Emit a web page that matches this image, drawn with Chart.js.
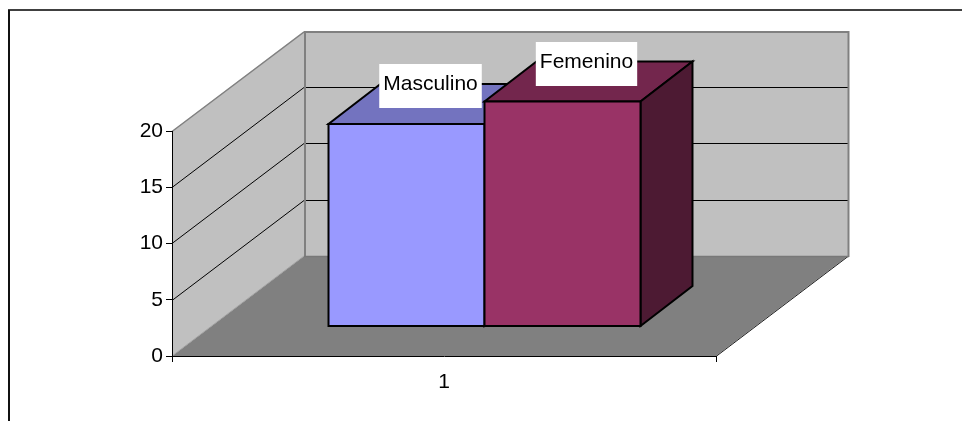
<!DOCTYPE html>
<html>
<head>
<meta charset="utf-8">
<script src="https://cdn.jsdelivr.net/npm/chart.js@4"></script>
<style>
html, body { margin: 0; padding: 0; background: #fff; }
#wrap { width: 962px; height: 421px; }
</style>
</head>
<body>
<div id="wrap"><canvas id="chart" width="962" height="421"></canvas></div>
<script>
const categories = ["1"];
const masculino = [18];
const femenino = [20];
const yTicks = [0, 5, 10, 15, 20];

// 3D look: how far the back wall and the bars sit behind the axis plane
const backX = 132, backY = -100;
const gapX = 40.5, gapY = -29.5;
const barDepthX = 52, barDepthY = -40;

const FONT = "Liberation Sans";
const TOP_COLORS = ["#7373bf", "#73264d"];
const SIDE_COLORS = ["#4d4d80", "#4d1a33"];

function poly(ctx, pts, fill, stroke, width) {
    ctx.beginPath();
    pts.forEach((p, i) => i ? ctx.lineTo(p[0], p[1]) : ctx.moveTo(p[0], p[1]));
    ctx.closePath();
    if (fill) { ctx.fillStyle = fill; ctx.fill(); }
    if (stroke) { ctx.strokeStyle = stroke; ctx.lineWidth = width; ctx.stroke(); }
}

function line(ctx, x1, y1, x2, y2, color, width) {
    ctx.beginPath();
    ctx.moveTo(x1, y1);
    ctx.lineTo(x2, y2);
    ctx.strokeStyle = color;
    ctx.lineWidth = width;
    ctx.stroke();
}

const walls = {
    id: "walls",
    beforeDraw(chart) {
        const ctx = chart.ctx;
        const { left, right, top, bottom } = chart.chartArea;
        ctx.save();

        // outer frame, cut by the picture on the right and at the bottom
        line(ctx, 8, 10, 962, 10, "#404040", 2);
        line(ctx, 9, 10, 9, 421, "#111", 2);

        // floor
        poly(ctx, [[left, bottom], [right, bottom], [right + backX, bottom + backY], [left + backX, bottom + backY]], "#808080");
        line(ctx, right, bottom + 0.5, right + backX, bottom + backY + 0.5, "#202020", 1);

        // side wall + back wall
        poly(ctx, [[left, bottom], [left, top], [left + backX, top + backY], [left + backX, bottom + backY]], "#c0c0c0");
        poly(ctx, [[left + backX, top + backY], [right + backX, top + backY], [right + backX, bottom + backY], [left + backX, bottom + backY]], "#c0c0c0");

        // grid lines from the y scale
        const y = chart.scales.y;
        yTicks.forEach(v => {
            if (v === 0 || v === 20) return;
            const py = Math.round(y.getPixelForValue(v) - 0.01) + 0.5;
            line(ctx, left, py, left + backX, py + backY, "#000", 1);
            line(ctx, left + backX, py + backY, right + backX, py + backY, "#000", 1);
        });

        // wall edges
        line(ctx, left, top + 0.5, left + backX, top + backY + 1, "#808080", 1.5);
        line(ctx, left + backX, top + backY + 1, right + backX + 1, top + backY + 1, "#808080", 2);
        line(ctx, left + backX + 1, top + backY, left + backX + 1, bottom + backY + 1, "#808080", 2);
        line(ctx, right + backX + 0.5, top + backY, right + backX + 0.5, bottom + backY + 1, "#808080", 2);
        line(ctx, left + backX, bottom + backY + 0.5, right + backX + 1, bottom + backY + 0.5, "#787878", 1.5);
        line(ctx, left, bottom, left + backX, bottom + backY, "#a0a0a0", 1);
        ctx.restore();
    }
};

const bars3d = {
    id: "bars3d",
    // chart.js paints the first dataset last, here the right bar has to end up on top
    beforeDatasetDraw() {
        return false;
    },
    afterDatasetsDraw(chart) {
        const ctx = chart.ctx;
        ctx.save();
        ctx.translate(gapX, gapY);
        chart.data.datasets.forEach((ds, i) => {
            chart.getDatasetMeta(i).data.forEach(bar => {
                const l = bar.x - bar.width / 2, r = bar.x + bar.width / 2;
                poly(ctx, [[l, bar.y], [r, bar.y], [r + barDepthX, bar.y + barDepthY], [l + barDepthX, bar.y + barDepthY]], TOP_COLORS[i], "#000", 2);
                poly(ctx, [[r, bar.y], [r + barDepthX, bar.y + barDepthY], [r + barDepthX, bar.base + barDepthY], [r, bar.base]], SIDE_COLORS[i], "#000", 2);
                bar.draw(ctx);
                ctx.strokeStyle = "#000";
                ctx.lineWidth = 2;
                ctx.strokeRect(l, bar.y, bar.width, bar.base - bar.y);
            });
        });
        ctx.restore();

        // series name on a white box over the top of each bar
        ctx.save();
        ctx.font = "21px '" + FONT + "'";
        ctx.textAlign = "center";
        ctx.textBaseline = "alphabetic";
        chart.data.datasets.forEach((ds, i) => {
            chart.getDatasetMeta(i).data.forEach(bar => {
                const cx = bar.x + gapX + barDepthX / 2 - 2;
                const cy = Math.round(bar.y + gapY + barDepthY / 2 - 18);
                const w = ctx.measureText(ds.label).width + 8;
                ctx.fillStyle = "#fff";
                ctx.fillRect(cx - w / 2, cy - 22, w, 44);
                ctx.fillStyle = "#000";
                ctx.fillText(ds.label, cx, cy + 4);
            });
        });
        ctx.restore();
    }
};

new Chart(document.getElementById("chart"), {
    type: "bar",
    data: {
        labels: categories,
        datasets: [
            { label: "Masculino", data: masculino, backgroundColor: "#9999ff", borderWidth: 0 },
            { label: "Femenino", data: femenino, backgroundColor: "#993366", borderWidth: 0 }
        ]
    },
    options: {
        responsive: false,
        animation: false,
        events: [],
        barPercentage: 1,
        categoryPercentage: 0.5735,
        layout: { padding: { top: 131, right: 246, left: 0, bottom: 0 } },
        plugins: { legend: { display: false }, tooltip: { enabled: false } },
        scales: {
            x: {
                afterFit(s) { s.height = 65; },
                border: { color: "#000", width: 1 },
                grid: { offset: true, drawOnChartArea: false, drawTicks: true, tickLength: 6, color: "#000" },
                ticks: { color: "#000", padding: 8, font: { family: FONT, size: 21 } }
            },
            y: {
                min: 0,
                max: 20,
                afterFit(s) { s.width = 172; },
                border: { color: "#000", width: 1 },
                grid: { drawOnChartArea: false, drawTicks: true, tickLength: 6, color: "#000" },
                afterBuildTicks(s) { s.ticks = yTicks.map(v => ({ value: v })); },
                ticks: { color: "#000", padding: 3, font: { family: FONT, size: 21 } }
            }
        }
    },
    plugins: [walls, bars3d]
});
</script>
</body>
</html>
